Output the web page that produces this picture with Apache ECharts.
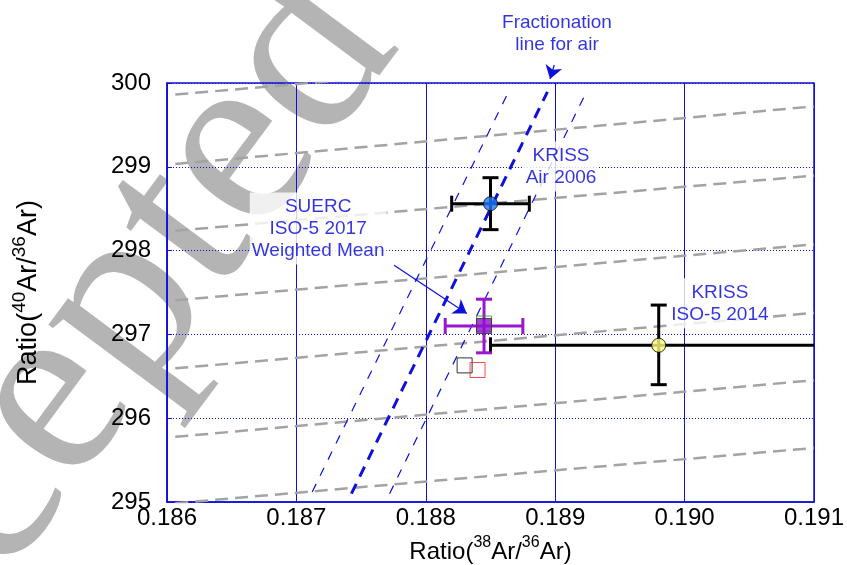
<!DOCTYPE html>
<html>
<head>
<meta charset="utf-8">
<script src="https://cdn.jsdelivr.net/npm/echarts@6/dist/echarts.min.js"></script>
<style>
html,body{margin:0;padding:0;background:#fff;}
#chart{width:847px;height:565px;}
</style>
</head>
<body>
<div id="chart"></div>
<script>
// ---- tick labels ----
const xTickLabels = ['0.186', '0.187', '0.188', '0.189', '0.190', '0.191'];
const yTickLabels = ['295', '296', '297', '298', '299', '300'];

// ---- gray dashed reference lines (y at grayX[0] and at grayX[1]) ----
const grayX = [0.186064, 0.191];
const grayStartY = [299.862, 299.033, 298.237, 297.407, 296.595, 295.778, 294.985];
const grayEndY   = [300.520, 299.721, 298.895, 298.074, 297.257, 296.453, 295.645];

// ---- fractionation line for air (centre) and its two bounds ----
const fracCenter = [[0.187425, 295.099], [0.188940, 299.894]];
const fracLower  = [[0.187122, 295.120], [0.188639, 299.894]];
const fracUpper  = [[0.187720, 295.099], [0.189241, 299.894]];

// ---- measurement points ----
const krissAir2006 = [[0.18850, 298.56]];
const krissIso2014 = [[0.18980, 296.87]];
const suercMean    = [[0.18845, 297.10]];
const greenPoint   = [[0.18845, 297.13]];
const blackPoint   = [[0.18830, 296.63]];
const redPoint     = [[0.18840, 296.575]];

// error bars: [x, y, xLow, xHigh, yLow, yHigh]
const krissErrors = [
  [0.18850, 298.56, 0.18820, 0.18880, 298.25, 298.87],
  [0.18980, 296.87, 0.18850, 0.19110, 296.40, 297.35]
];
const suercErrors = [
  [0.18845, 297.10, 0.18815, 0.18875, 296.78, 297.42]
];

// ---- annotations ----
const annotationTexts = ['Fractionation\nline for air', 'KRISS\nAir 2006', 'SUERC\nISO-5 2017\nWeighted Mean', 'KRISS\nISO-5 2014'];
const annotationAt = [[0.189014, 300.591], [0.189045, 299.004], [0.187168, 298.264], [0.190273, 297.371]];
const arrowLines = [
  [[0.188993, 300.215], [0.188960, 300.048]],
  [[0.187755, 297.826], [0.188317, 297.249]]
];

const BLUE = '#1010dc';
const TEXT_BLUE = '#0000d8';
const FONT = 'Liberation Sans';

function errorBarRenderer(color) {
  return function (params, api) {
    const x = api.value(0), y = api.value(1);
    const l = api.coord([api.value(2), y]);
    const r = api.coord([api.value(3), y]);
    const b = api.coord([x, api.value(4)]);
    const t = api.coord([x, api.value(5)]);
    const c = 8;
    const style = { stroke: color, lineWidth: 3 };
    const ln = (x1, y1, x2, y2) => ({ type: 'line', shape: { x1, y1, x2, y2 }, style });
    return {
      type: 'group',
      children: [
        ln(l[0], l[1], r[0], r[1]),
        ln(t[0], t[1], b[0], b[1]),
        ln(l[0], l[1] - c, l[0], l[1] + c),
        ln(r[0], r[1] - c, r[0], r[1] + c),
        ln(t[0] - c, t[1], t[0] + c, t[1]),
        ln(b[0] - c, b[1], b[0] + c, b[1])
      ]
    };
  };
}

const graySeries = grayStartY.map((y0, i) => ({
  type: 'line',
  data: [[grayX[0], y0], [grayX[1], grayEndY[i]]],
  symbol: 'none',
  clip: true,
  silent: true,
  z: 2,
  lineStyle: { color: '#a3a3a3', width: 2.5, type: [13, 7] }
}));

function fracSeries(data, width, dash) {
  return {
    type: 'line', data, symbol: 'none', clip: true, silent: true, z: 2,
    lineStyle: { color: BLUE, width, type: dash }
  };
}

const chart = echarts.init(document.getElementById('chart'), null, { renderer: 'canvas' });

chart.setOption({
  animation: false,
  backgroundColor: '#fff',
  graphic: [{
    type: 'text',
    x: 60, y: 393,
    rotation: 0.932,
    z: -10,
    silent: true,
    style: {
      text: 'Accepted',
      fontSize: 255,
      fontFamily: 'Liberation Serif',
      fill: '#b4b4b4',
      align: 'center',
      verticalAlign: 'middle'
    }
  }],
  grid: {
    left: 167, right: 33, top: 83, bottom: 63,
    show: true, borderColor: BLUE, borderWidth: 1.5,
    backgroundColor: 'transparent',
    outerBoundsMode: 'none'
  },
  xAxis: {
    type: 'value', min: 0.186, max: 0.191, interval: 0.001,
    axisLine: { show: true, lineStyle: { color: BLUE, width: 1.5 } },
    axisTick: { show: true, inside: true, length: 5, lineStyle: { color: BLUE } },
    axisLabel: {
      color: '#000', fontSize: 24, fontFamily: FONT, margin: 4,
      formatter: v => xTickLabels[Math.round((v - 0.186) / 0.001)]
    },
    splitLine: { show: true, lineStyle: { color: BLUE, width: 1, type: 'solid' } },
    name: '{m|Ratio(}{s|38}{m|Ar/}{s|36}{m|Ar)}',
    nameLocation: 'middle',
    nameGap: 31,
    nameTextStyle: {
      rich: {
        m: { fontSize: 24, lineHeight: 34, fontFamily: FONT, color: '#000' },
        s: { fontSize: 16, lineHeight: 14, verticalAlign: 'top', fontFamily: FONT, color: '#000' }
      }
    }
  },
  yAxis: {
    type: 'value', min: 295, max: 300, interval: 1,
    axisLine: { show: true, lineStyle: { color: BLUE, width: 1.5 } },
    axisTick: { show: true, inside: true, length: 5, lineStyle: { color: BLUE } },
    axisLabel: {
      color: '#000', fontSize: 24, fontFamily: FONT, margin: 16,
      formatter: v => yTickLabels[Math.round(v - 295)]
    },
    splitLine: { show: true, lineStyle: { color: BLUE, width: 1, type: [1, 2] } },
    name: '{m|Ratio(}{s|40}{m|Ar/}{s|36}{m|Ar)}',
    nameLocation: 'middle',
    nameGap: 119,
    nameTextStyle: {
      rich: {
        m: { fontSize: 27, lineHeight: 38, fontFamily: FONT, color: '#000' },
        s: { fontSize: 19, lineHeight: 16, verticalAlign: 'top', fontFamily: FONT, color: '#000' }
      }
    }
  },
  series: [
    ...graySeries,
    fracSeries(fracLower, 1.2, [9, 9]),
    fracSeries(fracUpper, 1.2, [9, 9]),
    fracSeries(fracCenter, 3, [11, 8]),
    {
      type: 'lines', coordinateSystem: 'cartesian2d', clip: false, silent: true, z: 3,
      data: arrowLines.map(c => ({ coords: c })),
      symbol: ['none', 'arrow'], symbolSize: [8, 13],
      lineStyle: { color: BLUE, width: 1.2, opacity: 1 }
    },
    {
      type: 'scatter', clip: false, silent: true, z: 3,
      symbolSize: 0,
      itemStyle: { color: 'transparent' },
      data: annotationAt.map((p, i) => ({ value: p, name: annotationTexts[i] })),
      label: {
        show: true, position: 'inside', formatter: '{b}',
        color: TEXT_BLUE, fontSize: 19, lineHeight: 22, fontFamily: FONT,
        backgroundColor: '#fff', padding: [3, 2]
      }
    },
    {
      type: 'custom', clip: true, silent: true, z: 4,
      renderItem: errorBarRenderer('#000'),
      data: krissErrors
    },
    {
      type: 'custom', clip: true, silent: true, z: 4,
      renderItem: errorBarRenderer('#9a16cf'),
      data: suercErrors
    },
    {
      type: 'scatter', silent: true, z: 5, symbol: 'rect', symbolSize: 15,
      itemStyle: { color: 'transparent', borderColor: '#000', borderWidth: 1 },
      data: blackPoint
    },
    {
      type: 'scatter', silent: true, z: 5, symbol: 'rect', symbolSize: 15,
      itemStyle: { color: 'transparent', borderColor: '#f02020', borderWidth: 1 },
      data: redPoint
    },
    {
      type: 'scatter', silent: true, z: 5, symbol: 'rect', symbolSize: 15,
      itemStyle: { color: 'transparent', borderColor: '#22a022', borderWidth: 1 },
      data: greenPoint
    },
    {
      type: 'scatter', silent: true, z: 6, symbol: 'rect', symbolSize: 15,
      itemStyle: { color: '#9010cc', borderColor: '#333', borderWidth: 1 },
      data: suercMean
    },
    {
      type: 'scatter', silent: true, z: 6, symbol: 'circle', symbolSize: 14,
      itemStyle: { color: '#1e78ff', borderColor: '#000', borderWidth: 1 },
      data: krissAir2006
    },
    {
      type: 'scatter', silent: true, z: 6, symbol: 'circle', symbolSize: 14,
      itemStyle: { color: '#ffff80', borderColor: '#000', borderWidth: 1 },
      data: krissIso2014
    }
  ]
});
</script>
</body>
</html>
